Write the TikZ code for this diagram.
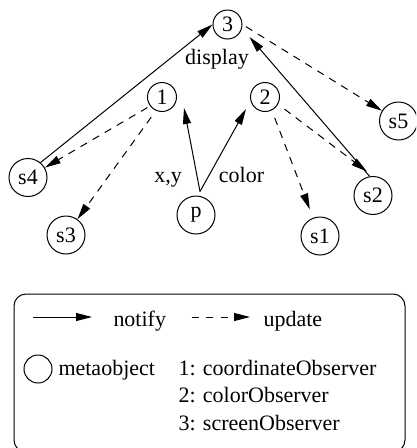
\documentclass[tikz,border=0pt]{standalone}
\usepackage{fontspec}
\setmainfont{Liberation Serif}
\usetikzlibrary{arrows.meta}

\begin{document}
\begin{tikzpicture}[x=1pt,y=-1pt,
  line width=1pt,
  every node/.style={font=\fontsize{22}{26}\selectfont, inner sep=0pt},
  meta/.style={draw, circle, minimum size=29pt},
  obj/.style={draw, circle, minimum size=38pt},
  notify/.style={-{Triangle[length=16pt,width=8pt]}},
  update/.style={-{Triangle[length=16pt,width=8pt]}, dash pattern=on 7.5pt off 6.5pt},
  lbl/.style={anchor=base},
  legtext/.style={anchor=base west}]

\useasboundingbox (0,0) rectangle (416,448);
\clip (0,0) rectangle (416,448);

% metaobjects
\node[meta] (n3) at (227.5,24.5) {3};
\node[meta] (n1) at (162,97) {1};
\node[meta] (n2) at (265,97) {2};

% observed objects
\node[obj] (s4) at (28,177.5) {s4};
\node[obj] (s3) at (66,235) {s3};
\node[obj] (p)  at (196,215) {p};
\node[obj] (s1) at (320,236) {s1};
\node[obj] (s2) at (373,195.5) {s2};
\node[obj] (s5) at (398.5,121) {s5};

% labels
\node[lbl] (ldisplay) at (217,64) {display};
\node[lbl] (lxy) at (168,182) {x,y};
\node[lbl] (lcolor) at (241.5,182) {color};

% notifications
\coordinate (pt) at ([shift={(4,-4)}]p.north);
\draw[notify] (pt) -- ([shift={(22,11)}]n1.center);
\draw[notify] (pt) -- ([shift={(-19,12)}]n2.center);
\draw[notify] (s4.50) -- (n3.west);
\draw[notify] (s2.100) -- ([shift={(22,12.5)}]n3.center);

% updates
\draw[update, shorten <=4pt] (n3.east) -- (s5);
\draw[update, shorten <=3pt] (n1.217) -- (s4);
\draw[update, shorten <=8pt] (n1.246) -- (s3);
\draw[update, shorten <=8pt, shorten >=9pt] (n2.297) -- (s1);
\draw[update, shorten <=8pt] (n2.331) -- ([shift={(-6,-24)}]s2.center);

% legend
\draw[rounded corners=12pt] (14,294) rectangle (405,452);
\coordinate (a1) at (33,317);
\coordinate (a2) at (92,317);
\draw[notify] (a1) -- (a2);
\node[legtext] (tnotify) at (113,326) {notify};
\coordinate (b1) at (191.5,317);
\coordinate (b2) at (250,317);
\draw[update, dash pattern=on 7pt off 7.5pt] (b1) -- (b2);
\node[legtext] (tupdate) at (263,326) {update};
\node[draw, circle, minimum size=28pt] (lc) at (38,369) {};
\node[legtext] (tmeta) at (58,375) {metaobject};
\node[legtext] (t1) at (178,375) {1: coordinateObserver};
\node[legtext] (t2) at (178,402.5) {2: colorObserver};
\node[legtext] (t3) at (178,430) {3: screenObserver};
\end{tikzpicture}
\end{document}
